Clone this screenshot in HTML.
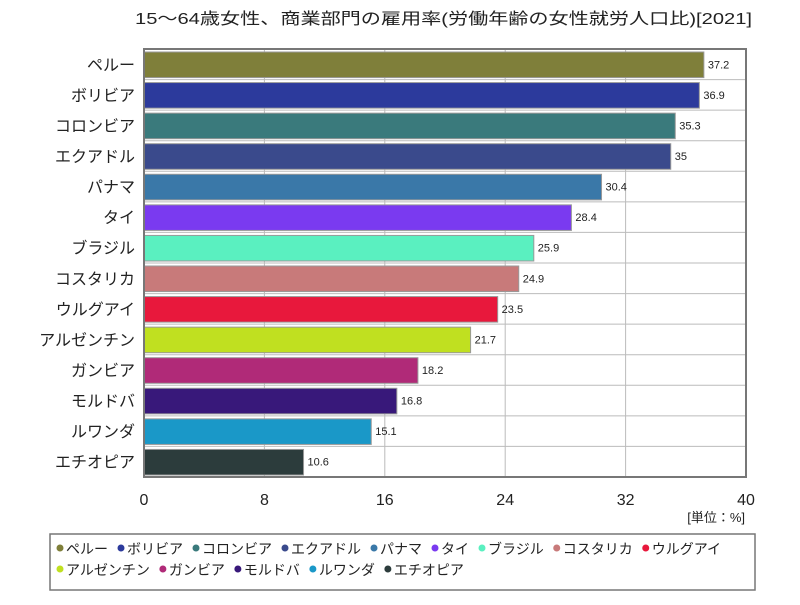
<!DOCTYPE html>
<html><head><meta charset="utf-8"><style>
body{margin:0;background:#fff;font-family:"Liberation Sans","Noto Sans CJK JP",sans-serif}
</style></head><body>
<svg id="c" width="800" height="600" xmlns="http://www.w3.org/2000/svg" style="font-family:'Liberation Sans','Noto Sans CJK JP',sans-serif">
<text x="135" y="24" textLength="617" lengthAdjust="spacingAndGlyphs" font-size="16" fill="#222">15～64歳女性、商業部門の雇用率(労働年齢の女性就労人口比)[2021]</text>
<g id="grid"></g><g id="bars"></g><g id="labels"></g>
<text x="745" y="522" text-anchor="end" font-size="13" fill="#222">[単位：%]</text>
<rect x="50" y="534" width="705" height="56" fill="#fff" stroke="#777" stroke-width="1.5"/>
<g id="legend"></g>
</svg>
<script>
const categories=["ペルー","ボリビア","コロンビア","エクアドル","パナマ","タイ","ブラジル","コスタリカ","ウルグアイ","アルゼンチン","ガンビア","モルドバ","ルワンダ","エチオピア"];
const values=[37.2,36.9,35.3,35,30.4,28.4,25.9,24.9,23.5,21.7,18.2,16.8,15.1,10.6];
const colors=["#7f7f3a","#2c3a9c","#3a7a7c","#3a4a8c","#3a78a8","#7a3af0","#5af0c0","#c87a7a","#e8183c","#c0e020","#b02a78","#38187a","#1a98c8","#2c3c3c"];
const ticks=[0,8,16,24,32,40];
const NS="http://www.w3.org/2000/svg";
const X0=144,X1=746,Y0=49,Y1=477,MAX=40;
const xs=v=>X0+(X1-X0)*v/MAX;
const band=(Y1-Y0)/categories.length;
const ys=i=>Y0+band*i;
function mk(t,a,p){const e=document.createElementNS(NS,t);for(const k in a)e.setAttribute(k,a[k]);p.appendChild(e);return e;}
const g=document.getElementById('grid'),b=document.getElementById('bars'),l=document.getElementById('labels'),lg=document.getElementById('legend');
ticks.forEach(t=>{
 const ln=mk('line',{x1:xs(t),x2:xs(t),y1:Y0,y2:Y1,stroke:'#bbb','stroke-width':1},g);
 
 
 const tx=mk('text',{x:xs(t),y:505,'text-anchor':'middle','font-size':16,fill:'#222'},l);tx.textContent=t;
 
 
});
categories.forEach((c,i)=>{
 const sep=mk('line',{x1:X0,x2:X1,y1:ys(i),y2:ys(i),stroke:'#bbb','stroke-width':1},g);
 
 
 const r=mk('rect',{x:X0,y:ys(i)+3,width:xs(values[i])-X0,height:band-5,fill:colors[i],stroke:'#999','stroke-width':1},b);
 
 
 const cy=ys(i)+band/2;
 const lab=mk('text',{x:135,y:cy+6,'text-anchor':'end','font-size':16,fill:'#222'},l);lab.textContent=c;
 
 
 const v=mk('text',{x:xs(values[i])+4,y:cy+4,'font-size':11,fill:'#222'},l);v.textContent=values[i];
 
 
});
const fr=mk('rect',{x:X0,y:Y0,width:X1-X0,height:Y1-Y0,fill:'none',stroke:'#777','stroke-width':2},l);


let lx=56,ly=553;
categories.forEach((c,i)=>{
 const w=c.length*14+20;
 if(lx+w>755){lx=56;ly=574;}
 const it=mk('g',{},lg);
 
 
 mk('circle',{cx:lx+4,cy:ly-5,r:3.5,fill:colors[i]},it);
 const t=mk('text',{x:lx+10,y:ly+1,'font-size':14,fill:'#222'},it);t.textContent=c;
 lx+=t.getComputedTextLength()+19;
});
</script>
</body></html>
